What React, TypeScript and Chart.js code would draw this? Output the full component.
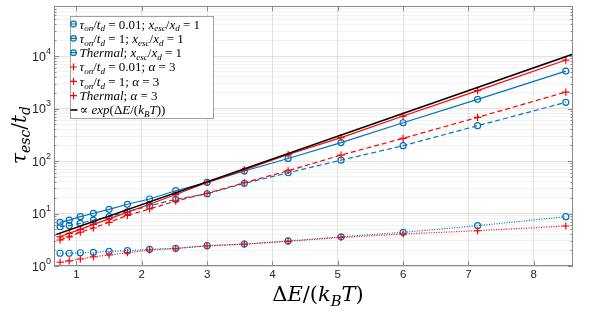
import React, { useEffect, useRef } from 'react';
import { Chart, registerables } from 'chart.js';

Chart.register(...registerables);

// ---- data ----
const xVals = [0.75, 0.89, 1.06, 1.26, 1.5, 1.78, 2.12, 2.52, 3.0, 3.57, 4.24, 5.05, 6.0, 7.14, 8.49];
const blueSolid = [6.8, 7.5, 8.7, 10.1, 12.0, 15.0, 18.9, 27.2, 39.3, 64.5, 112, 225, 537, 1500, 5180];
const blueDashed = [5.6, 5.9, 6.5, 7.5, 8.7, 10.8, 14.1, 18.6, 23.8, 37.6, 59.8, 104, 196, 471, 1312];
const blueDotted = [1.75, 1.75, 1.79, 1.82, 1.9, 1.96, 2.08, 2.17, 2.44, 2.62, 3.0, 3.6, 4.38, 5.86, 8.7];
const redSolid = [3.6, 4.2, 5.0, 6.2, 7.9, 10.6, 15.0, 23.0, 39.0, 68.0, 133, 280, 720, 2200, 8400];
const redDashed = [3.13, 3.6, 4.4, 5.3, 6.8, 9.2, 12.2, 17.3, 24.3, 38.6, 65.3, 130, 271, 679, 2063];
const redDotted = [1.18, 1.25, 1.36, 1.5, 1.62, 1.79, 2.02, 2.15, 2.42, 2.6, 2.95, 3.5, 4.07, 4.7, 5.78];
const fitX = [0.6, 9.0];
const fitY = [3.64, 16206];

const xTicks = [1, 2, 3, 4, 5, 6, 7, 8];
const yMajor = [1, 10, 100, 1000, 10000];
const yExp = ['0', '1', '2', '3', '4'];
const legendLabels = [
  'τ_{on}/t_{d} = 0.01; x_{esc}/x_{d} = 1',
  'τ_{on}/t_{d} = 1; x_{esc}/x_{d} = 1',
  'Thermal; x_{esc}/x_{d} = 1',
  'τ_{on}/t_{d} = 0.01; α = 3',
  'τ_{on}/t_{d} = 1; α = 3',
  'Thermal; α = 3',
  '∝ exp(ΔE/(k_{B}T))',
];
const xTitle = 'ΔE/(k_{B}T)';
const yTitle = 'τ_{esc}/t_{d}';

const BLUE = '#0072BD';
const RED = '#FF0000';
const BLACK = '#000000';
const AXIS = '#8a8a8a';
const SERIF = '"DejaVu Serif", "Liberation Serif", serif';
const SERIF_NARROW = '"Liberation Serif", "DejaVu Serif", serif';
const SANS = '"Liberation Sans", "DejaVu Sans", sans-serif';

type Piece = { ch: string; font: string; dy: number; w: number };

function layoutMath(ctx: CanvasRenderingContext2D, str: string, size: number, fam: string) {
  const segs: { t: string; sub: boolean }[] = [];
  let i = 0;
  while (i < str.length) {
    if (str[i] === '_' && str[i + 1] === '{') {
      const j = str.indexOf('}', i);
      segs.push({ t: str.slice(i + 2, j), sub: true });
      i = j + 1;
    } else {
      let j = i;
      while (j < str.length && !(str[j] === '_' && str[j + 1] === '{')) j++;
      segs.push({ t: str.slice(i, j), sub: false });
      i = j;
    }
  }
  const pieces: Piece[] = [];
  for (const s of segs) {
    const sz = s.sub ? size * 0.7 : size;
    for (const ch of Array.from(s.t)) {
      const it = /[A-Za-zτα]/.test(ch);
      pieces.push({ ch, font: `${it ? 'italic ' : ''}${sz}px ${fam}`, dy: s.sub ? size * 0.22 : 0, w: 0 });
    }
  }
  let total = 0;
  ctx.save();
  for (const p of pieces) {
    ctx.font = p.font;
    p.w = ctx.measureText(p.ch).width;
    total += p.w;
  }
  ctx.restore();
  return { pieces, total };
}

function mathWidth(ctx: CanvasRenderingContext2D, str: string, size: number, fam: string) {
  return layoutMath(ctx, str, size, fam).total;
}

function drawMath(ctx: CanvasRenderingContext2D, str: string, x: number, y: number, size: number, align: 'left' | 'center', fam: string) {
  const { pieces, total } = layoutMath(ctx, str, size, fam);
  ctx.save();
  ctx.textAlign = 'left';
  ctx.textBaseline = 'alphabetic';
  let cx = align === 'center' ? x - total / 2 : x;
  for (const p of pieces) {
    ctx.font = p.font;
    ctx.fillText(p.ch, cx, y + p.dy);
    cx += p.w;
  }
  ctx.restore();
  return total;
}

type LegendItem = { color: string; marker: 'circle' | 'cross' | 'none' };
const legendStyles: LegendItem[] = [
  { color: BLUE, marker: 'circle' },
  { color: BLUE, marker: 'circle' },
  { color: BLUE, marker: 'circle' },
  { color: RED, marker: 'cross' },
  { color: RED, marker: 'cross' },
  { color: RED, marker: 'cross' },
  { color: BLACK, marker: 'none' },
];

const overlay = {
  id: 'overlay',
  afterDraw(chart: any) {
    const { ctx, chartArea: a, scales } = chart;
    const xs = scales.x;
    const ys = scales.y;
    ctx.save();
    // box
    ctx.strokeStyle = AXIS;
    ctx.lineWidth = 1;
    ctx.strokeRect(Math.round(a.left) + 0.5, Math.round(a.top) + 0.5, Math.round(a.right - a.left) - 1, Math.round(a.bottom - a.top) - 1);
    ctx.beginPath();
    for (const v of xTicks) {
      const px = Math.round(xs.getPixelForValue(v)) + 0.5;
      ctx.moveTo(px, a.bottom);
      ctx.lineTo(px, a.bottom - 5);
      ctx.moveTo(px, a.top);
      ctx.lineTo(px, a.top + 5);
    }
    for (let k = 0; k < yMajor.length; k++) {
      for (let m = 1; m <= 9; m++) {
        const v = yMajor[k] * m;
        if (v > ys.max) continue;
        const py = Math.round(ys.getPixelForValue(v)) + 0.5;
        const len = m === 1 ? 5 : 2.5;
        ctx.moveTo(a.left, py);
        ctx.lineTo(a.left + len, py);
        ctx.moveTo(a.right, py);
        ctx.lineTo(a.right - len, py);
      }
    }
    ctx.stroke();

    // y tick labels 10^n
    ctx.fillStyle = '#262626';
    ctx.textAlign = 'left';
    ctx.textBaseline = 'alphabetic';
    for (let k = 0; k < yMajor.length; k++) {
      const py = ys.getPixelForValue(yMajor[k]);
      ctx.font = `9px ${SANS}`;
      const w2 = ctx.measureText(yExp[k]).width;
      ctx.font = `12.5px ${SANS}`;
      const w1 = ctx.measureText('10').width;
      const right = a.left - 3;
      ctx.fillText('10', right - w2 - w1, py + 4.5);
      ctx.font = `9px ${SANS}`;
      ctx.fillText(yExp[k], right - w2, py - 2.5);
    }

    // axis titles (fit to reference widths)
    ctx.fillStyle = '#000';
    const xs10 = mathWidth(ctx, xTitle, 10, SERIF);
    const xSize = Math.min(21, (10 * 92) / xs10);
    drawMath(ctx, xTitle, 318, 301, xSize, 'center', SERIF);
    const ys10 = mathWidth(ctx, yTitle, 10, SERIF);
    const ySize = Math.min(22, (10 * 58) / ys10);
    ctx.save();
    ctx.translate(26, (a.top + a.bottom) / 2 - 1);
    ctx.rotate(-Math.PI / 2);
    drawMath(ctx, yTitle, 0, 0, ySize, 'center', SERIF);
    ctx.restore();

    // legend
    const lx = 70.5, ly = 16.5, lw = 143, lh = 102;
    ctx.fillStyle = '#fff';
    ctx.fillRect(lx, ly, lw, lh);
    ctx.strokeStyle = '#a0a0a0';
    ctx.lineWidth = 1;
    ctx.strokeRect(lx, ly, lw, lh);
    const l10 = mathWidth(ctx, legendLabels[0], 10, SERIF_NARROW);
    const lSize = Math.min(13, (10 * 131) / l10);
    for (let i = 0; i < legendLabels.length; i++) {
      const cy = 24 + i * 14.33;
      const st = legendStyles[i];
      ctx.strokeStyle = st.color;
      ctx.lineWidth = st.marker === 'none' ? 1.6 : 1.2;
      ctx.beginPath();
      if (st.marker === 'circle') {
        ctx.moveTo(70, cy);
        ctx.lineTo(77, cy);
        ctx.moveTo(76.3, cy);
        ctx.arc(73.5, cy, 2.8, 0, Math.PI * 2);
      } else if (st.marker === 'cross') {
        ctx.moveTo(70, cy);
        ctx.lineTo(77, cy);
        ctx.moveTo(73.5, cy - 3.5);
        ctx.lineTo(73.5, cy + 3.5);
      } else {
        ctx.moveTo(70.5, cy);
        ctx.lineTo(77.5, cy);
      }
      ctx.stroke();
      ctx.fillStyle = '#000';
      drawMath(ctx, legendLabels[i], 79.5, cy + 4.5, lSize, 'left', SERIF_NARROW);
    }
    ctx.restore();
  },
};

function series(ys: number[]) {
  return xVals.map((x, i) => ({ x, y: ys[i] }));
}

export default function App() {
  const ref = useRef<HTMLCanvasElement | null>(null);
  useEffect(() => {
    if (!ref.current) return;
    const common = { borderWidth: 1.2, pointBorderWidth: 1.2, pointRadius: 3, pointBackgroundColor: 'rgba(0,0,0,0)', tension: 0, fill: false };
    const blueDs = (data: number[], dash: number[]) => ({
      ...common, data: series(data), borderColor: BLUE, pointBorderColor: BLUE, pointStyle: 'circle', borderDash: dash,
    });
    const redDs = (data: number[], dash: number[]) => ({
      ...common, data: series(data), borderColor: RED, pointBorderColor: RED, pointStyle: 'cross', pointRadius: 3.6, borderDash: dash,
    });
    const yGrid: number[] = [];
    for (const base of yMajor) for (let m = 1; m <= 9; m++) yGrid.push(base * m);
    const chart = new Chart(ref.current, {
      type: 'line',
      data: {
        datasets: [
          { data: fitX.map((x, i) => ({ x, y: fitY[i] })), borderColor: BLACK, borderWidth: 1.6, pointRadius: 0, clip: 0, fill: false },
          redDs(redSolid, []),
          redDs(redDashed, [5, 3]),
          redDs(redDotted, [1, 1.5]),
          blueDs(blueSolid, []),
          blueDs(blueDashed, [5, 3]),
          blueDs(blueDotted, [1, 1.5]),
        ] as any,
      },
      options: {
        animation: false,
        responsive: false,
        devicePixelRatio: 1,
        layout: { padding: { left: 0, right: 25, top: 6, bottom: 0 } },
        plugins: { legend: { display: false }, tooltip: { enabled: false } },
        scales: {
          x: {
            type: 'linear',
            min: 0.657,
            max: 8.6,
            afterFit: (s: any) => { s.height = 57; },
            afterBuildTicks: (s: any) => { s.ticks = xTicks.map((v) => ({ value: v })); },
            grid: { color: 'rgba(0,0,0,0.11)', drawTicks: false },
            border: { display: false },
            ticks: { padding: 2, color: '#262626', font: { family: SANS, size: 11.5 }, maxRotation: 0, autoSkip: false, callback: (v: any) => String(v) },
          },
          y: {
            type: 'logarithmic',
            min: 1,
            max: 90000,
            afterFit: (s: any) => { s.width = 54; },
            afterBuildTicks: (s: any) => { s.ticks = yGrid.filter((v) => v <= 90000).map((v) => ({ value: v })); },
            grid: {
              drawTicks: false,
              color: (c: any) => {
                const v = c.tick ? c.tick.value : 1;
                const lg = Math.log10(v);
                return Math.abs(lg - Math.round(lg)) < 1e-6 ? 'rgba(0,0,0,0.12)' : 'rgba(0,0,0,0.05)';
              },
            },
            border: { display: false },
            ticks: { display: false },
          },
        },
      } as any,
      plugins: [overlay],
    });
    return () => chart.destroy();
  }, []);
  return (
    <div style={{ position: 'absolute', left: 0, top: 0, width: 598, height: 323, background: '#fff' }}>
      <canvas ref={ref} width={598} height={323} style={{ display: 'block' }} />
    </div>
  );
}
